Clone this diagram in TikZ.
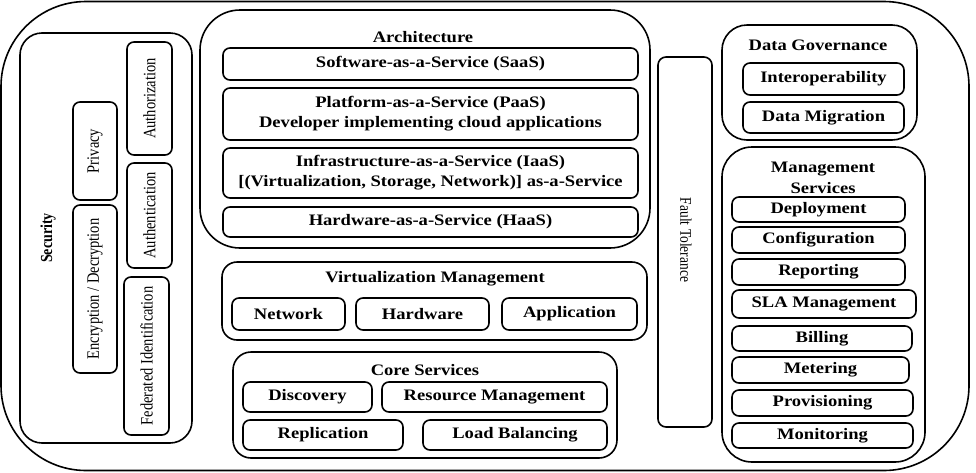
\documentclass[tikz,border=0pt]{standalone}
\usepackage{fontspec}
\setmainfont{Liberation Serif}[FakeStretch=1.16]
\newfontfamily\rotfont{Liberation Serif}
\newcommand\tallr[1]{\scalebox{1}[1.2]{#1}}
\begin{document}
\begin{tikzpicture}[x=1pt,y=-1pt,
  ln/.style={line width=1.6pt},
  container/.style={draw, ln, inner sep=0pt},
  box/.style={draw, ln, rounded corners=7pt, inner sep=0pt, align=center,
    font=\bfseries\fontsize{16}{20}\selectfont},
  rbox/.style={draw, ln, rounded corners=7pt, inner sep=0pt, align=center,
    font=\rotfont\fontsize{14.5}{17}\selectfont},
  head/.style={inner sep=0pt, align=center, font=\bfseries\fontsize{16}{21}\selectfont},
  rhead/.style={inner sep=0pt, font=\rotfont\bfseries\fontsize{14}{17}\selectfont}
]
\useasboundingbox (0,0) rectangle (976,472);
% outer frame
\node[container, rounded corners=85pt, minimum width=968pt, minimum height=469pt] (outer) at (485,236) {};

% Security
\node[container, rounded corners=22pt, minimum width=172pt, minimum height=410pt] (sec) at (106,238) {};
\node[rhead, rotate=90] (seclbl) at (48,238) {\tallr{Security}};
\node[rbox, rotate=90, minimum width=98pt, minimum height=44pt] (priv) at (95,151) {\tallr{Privacy}};
\node[rbox, rotate=90, minimum width=168pt, minimum height=44pt] (enc) at (95,289) {\tallr{Encryption / Decryption}};
\node[rbox, rotate=90, minimum width=113pt, minimum height=45pt] (authz) at (149.5,98.5) {\tallr{Authorization}};
\node[rbox, rotate=90, minimum width=105pt, minimum height=45pt] (authn) at (149.5,215.5) {\tallr{Authentication}};
\node[rbox, rotate=90, minimum width=158pt, minimum height=45pt] (fed) at (146.5,356) {\tallr{Federated Identification}};

% Architecture
\node[container, rounded corners=40pt, minimum width=450pt, minimum height=238pt] (arch) at (425,129) {};
\node[head] (archlbl) at (423,37) {Architecture};
\node[box, minimum width=415pt, minimum height=32pt] (saas) at (430.5,64) {Software-as-a-Service (SaaS)};
\node[box, minimum width=415pt, minimum height=52pt] (paas) at (430.5,114) {Platform-as-a-Service (PaaS)\\Developer implementing cloud applications};
\node[box, minimum width=415pt, minimum height=50pt] (iaas) at (430.5,173) {Infrastructure-as-a-Service (IaaS)\\{[}(Virtualization, Storage, Network)] as-a-Service};
\node[box, minimum width=415pt, minimum height=30pt] (haas) at (430.5,222) {Hardware-as-a-Service (HaaS)};

% Virtualization Management
\node[container, rounded corners=15pt, minimum width=425pt, minimum height=78pt] (vm) at (434.5,301) {};
\node[head] (vmlbl) at (435,279) {Virtualization Management};
\node[box, minimum width=113pt, minimum height=32pt] (net) at (288.5,314) {Network};
\node[box, minimum width=133pt, minimum height=32pt] (hw) at (422.5,314) {Hardware};
\node[box, minimum width=135pt, minimum height=32pt] (app) at (569.5,314) {Application};

% Core Services
\node[container, rounded corners=18pt, minimum width=384pt, minimum height=106pt] (core) at (425,405) {};
\node[head] (corelbl) at (425,370) {Core Services};
\node[box, minimum width=129pt, minimum height=30pt] (disc) at (307.5,397) {Discovery};
\node[box, minimum width=225pt, minimum height=30pt] (resm) at (494.5,397) {Resource Management};
\node[box, minimum width=160pt, minimum height=30pt] (repl) at (323,435) {Replication};
\node[box, minimum width=184pt, minimum height=30pt] (lb) at (515,435) {Load Balancing};

% Fault Tolerance
\node[draw, ln, rounded corners=8pt, minimum width=54pt, minimum height=370pt, inner sep=0pt] (ft) at (685,242) {};
\node[rotate=-90, inner sep=0pt, font=\rotfont\fontsize{13.5}{16}\selectfont] (ftlbl) at (686,240) {\tallr{Fault Tolerance}};

% Data Governance
\node[container, rounded corners=25pt, minimum width=195pt, minimum height=115pt] (dg) at (819.5,82.5) {};
\node[head] (dglbl) at (818,45) {Data Governance};
\node[box, minimum width=161pt, minimum height=32pt] (interop) at (823.5,79) {Interoperability};
\node[box, minimum width=161pt, minimum height=31pt] (dmig) at (823.5,117.5) {Data Migration};

% Management Services
\node[container, rounded corners=30pt, minimum width=203pt, minimum height=315pt] (ms) at (823.5,304.5) {};
\node[head] (mslbl) at (823,178) {Management\\Services};
\node[box, minimum width=173pt, minimum height=25pt] (dep) at (818.5,209.5) {Deployment};
\node[box, minimum width=173pt, minimum height=26pt] (conf) at (818.5,240) {Configuration};
\node[box, minimum width=173pt, minimum height=26pt] (rep) at (818.5,272) {Reporting};
\node[box, minimum width=184pt, minimum height=28pt] (sla) at (824,304) {SLA Management};
\node[box, minimum width=180pt, minimum height=25pt] (bill) at (822,338.5) {Billing};
\node[box, minimum width=177pt, minimum height=26pt] (met) at (820.5,370) {Metering};
\node[box, minimum width=181pt, minimum height=26pt] (prov) at (822.5,403) {Provisioning};
\node[box, minimum width=181pt, minimum height=25pt] (mon) at (822.5,435.5) {Monitoring};
\end{tikzpicture}
\end{document}
